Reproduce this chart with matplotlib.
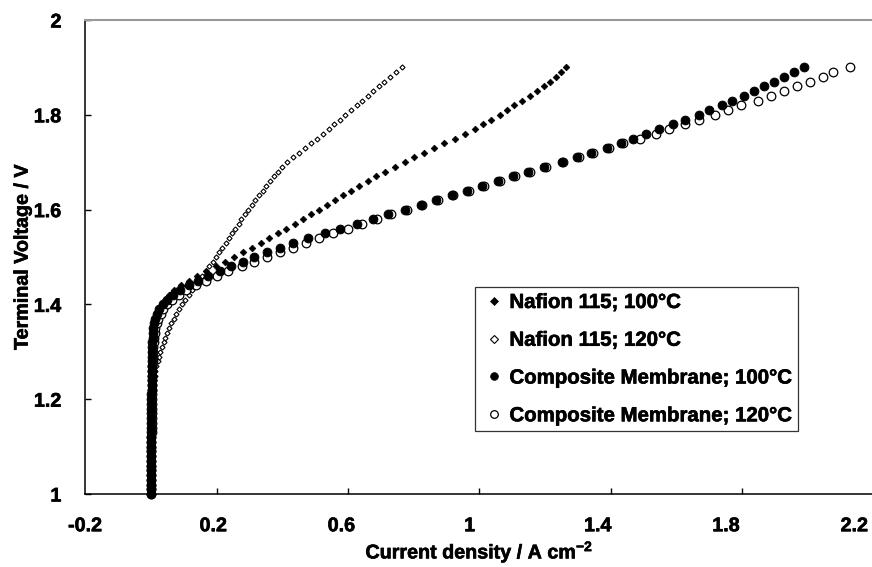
import matplotlib
matplotlib.use("Agg")
import matplotlib.pyplot as plt
import matplotlib.font_manager as fm
import matplotlib.patheffects as pe


def pick_bold_family():
    for fam in ['Liberation Sans', 'Arimo', 'Roboto', 'Inter', 'Open Sans',
                'Noto Sans', 'Lato', 'DejaVu Sans']:
        for f in fm.fontManager.ttflist:
            if f.name != fam:
                continue
            w = f.weight
            if isinstance(w, str):
                ok = w.lower() in ('bold', 'heavy', 'extra bold', 'black', 'demibold', 'semibold')
            else:
                ok = int(w) >= 600
            if ok:
                return fam
    return 'DejaVu Sans'


FAM = pick_bold_family()
plt.rcParams['font.family'] = [FAM, 'DejaVu Sans']
plt.rcParams['font.weight'] = 'bold'
plt.rcParams['mathtext.fontset'] = 'custom'
plt.rcParams['mathtext.bf'] = FAM + ':bold'
plt.rcParams['mathtext.rm'] = FAM + ':bold'
plt.rcParams['mathtext.default'] = 'bf'

# Terminal voltage (V) - shared sampling grid
voltage = [
    1.00, 1.01, 1.02, 1.03, 1.04, 1.05, 1.06, 1.07, 1.08, 1.09,
    1.10, 1.11, 1.12, 1.13, 1.14, 1.15, 1.16, 1.17, 1.18, 1.19,
    1.20, 1.21, 1.22, 1.23, 1.24, 1.25, 1.26, 1.27, 1.28, 1.29,
    1.30, 1.31, 1.32, 1.33, 1.34, 1.35, 1.36, 1.37, 1.38, 1.39,
    1.40, 1.41, 1.42, 1.43, 1.44, 1.45, 1.46, 1.47, 1.48, 1.49,
    1.50, 1.51, 1.52, 1.53, 1.54, 1.55, 1.56, 1.57, 1.58, 1.59,
    1.60, 1.61, 1.62, 1.63, 1.64, 1.65, 1.66, 1.67, 1.68, 1.69,
    1.70, 1.71, 1.72, 1.73, 1.74, 1.75, 1.76, 1.77, 1.78, 1.79,
    1.80, 1.81, 1.82, 1.83, 1.84, 1.85, 1.86, 1.87, 1.88, 1.89,
    1.90,
]

# Current density (A cm^-2)
nafion_100 = [
    0.000, 0.000, 0.000, 0.000, 0.001, 0.001, 0.001, 0.001, 0.001, 0.001,
    0.001, 0.001, 0.002, 0.002, 0.002, 0.002, 0.002, 0.002, 0.002, 0.003,
    0.003, 0.003, 0.003, 0.003, 0.003, 0.004, 0.004, 0.004, 0.004, 0.005,
    0.005, 0.006, 0.007, 0.008, 0.009, 0.011, 0.013, 0.016, 0.020, 0.026,
    0.033, 0.043, 0.056, 0.072, 0.092, 0.115, 0.140, 0.168, 0.197, 0.226,
    0.254, 0.282, 0.308, 0.334, 0.360, 0.386, 0.412, 0.438, 0.462, 0.487,
    0.512, 0.537, 0.561, 0.585, 0.608, 0.634, 0.660, 0.685, 0.712, 0.742,
    0.772, 0.800, 0.832, 0.862, 0.893, 0.925, 0.955, 0.985, 1.010, 1.035,
    1.062, 1.085, 1.105, 1.130, 1.155, 1.175, 1.195, 1.215, 1.232, 1.247,
    1.262,
]

nafion_120 = [
    0.000, 0.000, 0.001, 0.001, 0.001, 0.001, 0.001, 0.002, 0.002, 0.002,
    0.002, 0.002, 0.003, 0.003, 0.003, 0.003, 0.004, 0.004, 0.004, 0.005,
    0.005, 0.006, 0.007, 0.008, 0.010, 0.012, 0.014, 0.017, 0.021, 0.025,
    0.029, 0.034, 0.039, 0.044, 0.050, 0.056, 0.063, 0.070, 0.078, 0.087,
    0.096, 0.105, 0.115, 0.125, 0.135, 0.146, 0.157, 0.168, 0.178, 0.188,
    0.198, 0.208, 0.218, 0.228, 0.238, 0.248, 0.257, 0.267, 0.276, 0.286,
    0.296, 0.307, 0.318, 0.329, 0.340, 0.351, 0.363, 0.375, 0.387, 0.399,
    0.415, 0.433, 0.452, 0.470, 0.488, 0.506, 0.524, 0.541, 0.558, 0.575,
    0.592, 0.609, 0.626, 0.643, 0.660, 0.677, 0.694, 0.711, 0.728, 0.746,
    0.765,
]

composite_100 = [
    0.000, 0.000, 0.000, 0.000, 0.000, 0.001, 0.001, 0.001, 0.001, 0.001,
    0.001, 0.001, 0.001, 0.002, 0.002, 0.002, 0.002, 0.002, 0.002, 0.002,
    0.002, 0.002, 0.003, 0.003, 0.003, 0.003, 0.003, 0.003, 0.004, 0.004,
    0.004, 0.005, 0.005, 0.006, 0.007, 0.008, 0.011, 0.014, 0.019, 0.026,
    0.036, 0.050, 0.068, 0.090, 0.115, 0.145, 0.175, 0.210, 0.245, 0.280,
    0.315, 0.353, 0.393, 0.434, 0.478, 0.530, 0.576, 0.626, 0.675, 0.723,
    0.773, 0.821, 0.868, 0.915, 0.963, 1.008, 1.057, 1.103, 1.148, 1.197,
    1.250, 1.297, 1.338, 1.389, 1.429, 1.468, 1.506, 1.547, 1.588, 1.626,
    1.667, 1.697, 1.737, 1.767, 1.805, 1.836, 1.866, 1.897, 1.927, 1.957,
    1.987,
]

composite_120 = [
    0.001, 0.001, 0.001, 0.001, 0.001, 0.001, 0.002, 0.002, 0.002, 0.002,
    0.002, 0.002, 0.002, 0.003, 0.003, 0.003, 0.003, 0.003, 0.003, 0.004,
    0.004, 0.004, 0.004, 0.004, 0.005, 0.005, 0.005, 0.005, 0.006, 0.006,
    0.007, 0.008, 0.009, 0.010, 0.012, 0.014, 0.018, 0.023, 0.030, 0.038,
    0.050, 0.065, 0.085, 0.108, 0.137, 0.168, 0.200, 0.236, 0.277, 0.314,
    0.353, 0.393, 0.434, 0.471, 0.513, 0.555, 0.601, 0.642, 0.687, 0.730,
    0.778, 0.826, 0.873, 0.920, 0.968, 1.013, 1.062, 1.108, 1.153, 1.202,
    1.255, 1.302, 1.344, 1.395, 1.435, 1.488, 1.537, 1.577, 1.626, 1.667,
    1.717, 1.757, 1.795, 1.846, 1.887, 1.927, 1.966, 2.006, 2.046, 2.076,
    2.127,
]

series_labels = ["Nafion 115; 100°C", "Nafion 115; 120°C",
                 "Composite Membrane; 100°C", "Composite Membrane; 120°C"]

x_tick_values = [-0.2, 0.2, 0.6, 1.0, 1.4, 1.8, 2.2]
x_tick_labels = ["-0.2", "0.2", "0.6", "1", "1.4", "1.8", "2.2"]
y_tick_values = [1.0, 1.2, 1.4, 1.6, 1.8, 2.0]
y_tick_labels = ["1", "1.2", "1.4", "1.6", "1.8", "2"]

W, H = 872, 567
fig = plt.figure(figsize=(W / 100, H / 100), dpi=100)

# scale the font so that the widest legend entry matches the reference width
renderer = fig.canvas.get_renderer()
probe = fig.text(0, 0, series_labels[3], fontsize=15, fontweight='bold')
probe_w = probe.get_window_extent(renderer).width
probe.remove()
k = 284.0 / probe_w
FS_LEG = 15 * k
FS_TICK = 14.5 * k
FS_LAB = 14.5 * k

heavy = [pe.withStroke(linewidth=0.45, foreground='black')]

ax = fig.add_axes([85 / W, 73 / H, 789 / W, 474 / H])

h_n120, = ax.plot(nafion_120, voltage, linestyle='none', marker='D', ms=2.6,
                  mfc='white', mec='black', mew=0.8, zorder=2, clip_on=False)
h_c120, = ax.plot(composite_120, voltage, linestyle='none', marker='o', ms=6.2,
                  mfc='white', mec='black', mew=0.9, zorder=3, clip_on=False)
h_n100, = ax.plot(nafion_100, voltage, linestyle='none', marker='D', ms=3.4,
                  mfc='black', mec='black', mew=0.5, zorder=4, clip_on=False)
h_c100, = ax.plot(composite_100, voltage, linestyle='none', marker='o', ms=6.4,
                  mfc='black', mec='black', mew=0.6, zorder=5, clip_on=False)

ax.set_xlim(-0.2, 2.2)
ax.set_ylim(1.0, 2.0)

# tick labels in the reference sit slightly left of their tick marks
label_shift = 0.975
label_pos = [x_tick_values[0] + (t - x_tick_values[0]) * label_shift for t in x_tick_values]
ax.set_xticks(label_pos, x_tick_labels)
ax.set_xticks(x_tick_values[1:-1], minor=True)
ax.tick_params(axis='x', which='major', length=0, pad=16, labelsize=FS_TICK)
ax.tick_params(axis='x', which='minor', direction='in', length=4.5, width=1.0)
ax.set_yticks(y_tick_values, y_tick_labels)
ax.tick_params(axis='y', which='major', direction='in', length=4, width=1.0,
               pad=17, labelsize=FS_TICK)

for lab in ax.get_xticklabels() + ax.get_yticklabels():
    lab.set_fontweight('bold')
    lab.set_path_effects(heavy)

ax.spines['right'].set_visible(False)
ax.spines['top'].set_color('#999999')
ax.spines['top'].set_linewidth(1.5)
ax.spines['left'].set_linewidth(1.1)
ax.spines['bottom'].set_linewidth(1.1)

xl = ax.set_xlabel('Current density / A cm$^{-2}$', fontsize=FS_LAB, fontweight='bold', labelpad=2.5)
yl = ax.set_ylabel('Terminal Voltage / V', fontsize=FS_LAB, fontweight='bold', labelpad=1.5)
xl.set_path_effects(heavy)
yl.set_path_effects(heavy)

leg = ax.legend([h_n100, h_n120, h_c100, h_c120], series_labels,
                loc='upper left', bbox_to_anchor=(0.494, 0.437),
                frameon=True, fancybox=False, framealpha=1, edgecolor='#333333',
                borderpad=0.3, handlelength=1.3, handletextpad=0.1,
                labelspacing=0.92, borderaxespad=0,
                prop={'weight': 'bold', 'size': FS_LEG})
leg.get_frame().set_linewidth(0.9)
for hnd, ms in zip(leg.legend_handles, [4.2, 4.2, 5.5, 5.5]):
    hnd.set_markersize(ms)
for t in leg.get_texts():
    t.set_path_effects(heavy)

fig.savefig('out.png', dpi=100)
